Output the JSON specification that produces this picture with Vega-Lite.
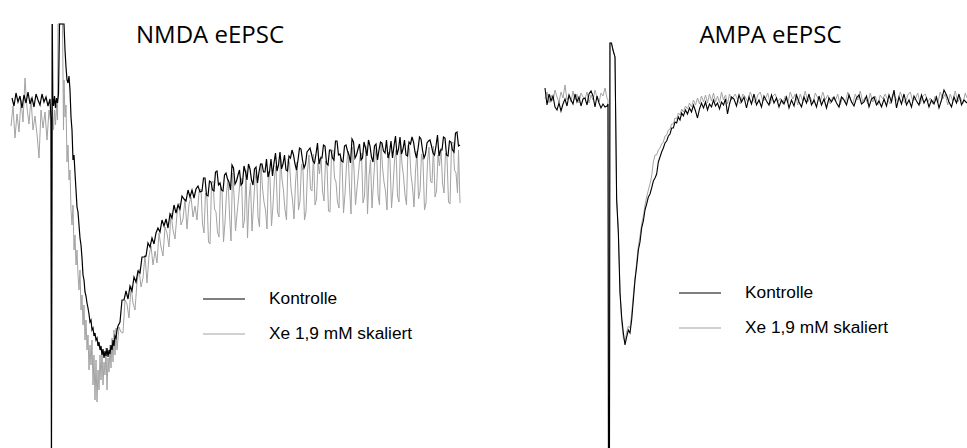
{
"$schema": "https://vega.github.io/schema/vega-lite/v6.json",
"padding": 0,
"bounds": "flush",
"spacing": 0,
"background": "white",
"config": {
 "view": {"stroke": null},
 "title": {"font": "Open Sans", "fontSize": 24, "fontWeight": "normal", "color": "#000000", "anchor": "middle", "frame": "group", "baseline": "alphabetic"},
 "legend": {"orient": "none", "title": null, "padding": 0, "symbolType": "stroke", "symbolSize": 1764, "symbolStrokeWidth": 1.2, "labelFont": "Liberation Sans", "labelFontSize": 17.3, "labelColor": "#000000", "labelOffset": 23, "clipHeight": 28, "rowPadding": 7}
},
"datasets": {
 "nk": [
{"t":-40,"v":2},{"t":-38,"v":-6},{"t":-36,"v":7},{"t":-34,"v":-2},{"t":-32,"v":4},{"t":-30,"v":-8},{"t":-28,"v":5},{"t":-26,"v":-3},{"t":-24,"v":8},{"t":-22,"v":-4},{"t":-20,"v":2},{"t":-18,"v":-7},{"t":-16,"v":6},{"t":-14,"v":0},{"t":-12,"v":-5},{"t":-10,"v":6},{"t":-8,"v":-2},{"t":-6,"v":3},{"t":-4,"v":-6},{"t":-2,"v":1},{"t":-1,"v":-20},
{"t":-0.5,"v":-360},{"t":0.3,"v":76},{"t":0.8,"v":2},{"t":1.5,"v":-6},{"t":2.5,"v":4},{"t":3.5,"v":-8},{"t":4.5,"v":2},{"t":5.5,"v":-3},{"t":6.5,"v":6},{"t":7.5,"v":76},{"t":12,"v":76},{"t":13,"v":50},{"t":14,"v":33},{"t":15,"v":20},{"t":16,"v":17},{"t":17,"v":24},{"t":18,"v":10},{"t":19,"v":-17},{"t":20,"v":-30},{"t":21,"v":-60},{"t":22,"v":-55},{"t":23,"v":-73},{"t":24,"v":-90},
{"t":25,"v":-107},{"t":26,"v":-112},{"t":27,"v":-125},{"t":28,"v":-138},{"t":29,"v":-145},{"t":30,"v":-158},{"t":31,"v":-175},{"t":32,"v":-180},{"t":33,"v":-192},{"t":34,"v":-196},{"t":35,"v":-203},{"t":36,"v":-208},{"t":37,"v":-214},{"t":38,"v":-222},{"t":39,"v":-220},{"t":40,"v":-230},{"t":41,"v":-228},{"t":42,"v":-236},{"t":43,"v":-233},{"t":44,"v":-240},{"t":45,"v":-238},{"t":46,"v":-246},{"t":47,"v":-242},{"t":48,"v":-250},{"t":49,"v":-246},{"t":50,"v":-255},{"t":51,"v":-249},{"t":52,"v":-258},{"t":53,"v":-251},{"t":54,"v":-256},{"t":55,"v":-248},{"t":56,"v":-257},{"t":57,"v":-250},{"t":58,"v":-254},{"t":59,"v":-245},{"t":60,"v":-250},{"t":61,"v":-240},{"t":62,"v":-246},{"t":63,"v":-236},{"t":64,"v":-238},{"t":65,"v":-230},
{"t":66,"v":-226},{"t":68,"v":-222},{"t":70,"v":-200},{"t":72,"v":-200},{"t":74,"v":-191},{"t":76,"v":-199},{"t":78,"v":-186},{"t":80,"v":-191},{"t":82,"v":-177},{"t":84,"v":-182},{"t":86,"v":-171},{"t":88,"v":-173},{"t":90,"v":-157},{"t":92,"v":-157},{"t":94,"v":-156},{"t":96,"v":-143},{"t":98,"v":-147},{"t":100,"v":-138},{"t":102,"v":-144},{"t":104,"v":-133},{"t":106,"v":-128},{"t":108,"v":-132},{"t":110,"v":-120},{"t":112,"v":-126},{"t":114,"v":-119},{"t":116,"v":-128},{"t":118,"v":-114},{"t":120,"v":-118},{"t":122,"v":-105},{"t":124,"v":-113},{"t":126,"v":-105},{"t":128,"v":-109},{"t":130,"v":-96},{"t":132,"v":-99},{"t":134,"v":-101},{"t":136,"v":-90},{"t":138,"v":-97},{"t":140,"v":-90},{"t":142,"v":-98},{"t":144,"v":-89},{"t":146,"v":-86},{"t":148,"v":-92},
{"t":150,"v":-91},{"t":151.5,"v":-78},{"t":153,"v":-78},{"t":154.5,"v":-95},{"t":156,"v":-96},{"t":157.5,"v":-81},{"t":159,"v":-82},{"t":160.5,"v":-90},{"t":162,"v":-91},{"t":163.5,"v":-72},{"t":165,"v":-71},{"t":166.5,"v":-85},{"t":168,"v":-83},{"t":169.5,"v":-90},{"t":171,"v":-91},{"t":172.5,"v":-75},{"t":174,"v":-73},{"t":175.5,"v":-79},{"t":177,"v":-82},{"t":178.5,"v":-90},{"t":180,"v":-65},{"t":181.5,"v":-68},{"t":183,"v":-84},{"t":184.5,"v":-81},{"t":186,"v":-75},{"t":187.5,"v":-70},{"t":189,"v":-85},{"t":190.5,"v":-83},{"t":192,"v":-66},{"t":193.5,"v":-72},{"t":195,"v":-80},{"t":196.5,"v":-64},{"t":198,"v":-69},{"t":199.5,"v":-80},{"t":201,"v":-85},{"t":202.5,"v":-69},{"t":204,"v":-67},{"t":205.5,"v":-83},{"t":207,"v":-72},{"t":208.5,"v":-64},{"t":210,"v":-64},{"t":211.5,"v":-72},{"t":213,"v":-72},{"t":214.5,"v":-59},{"t":216,"v":-77},{"t":217.5,"v":-72},{"t":219,"v":-59},{"t":220.5,"v":-76},{"t":222,"v":-63},{"t":223.5,"v":-53},{"t":225,"v":-71},{"t":226.5,"v":-65},{"t":228,"v":-52},{"t":229.5,"v":-69},{"t":231,"v":-64},{"t":232.5,"v":-55},{"t":234,"v":-70},{"t":235.5,"v":-71},{"t":237,"v":-56},{"t":238.5,"v":-58},{"t":240,"v":-50},{"t":241.5,"v":-55},{"t":243,"v":-64},{"t":244.5,"v":-70},{"t":246,"v":-60},{"t":247.5,"v":-48},{"t":249,"v":-49},{"t":250.5,"v":-60},{"t":252,"v":-68},{"t":253.5,"v":-64},{"t":255,"v":-52},{"t":256.5,"v":-50},{"t":258,"v":-48},{"t":259.5,"v":-54},{"t":261,"v":-61},{"t":262.5,"v":-63},{"t":264,"v":-54},{"t":265.5,"v":-43},{"t":267,"v":-64},{"t":268.5,"v":-58},{"t":270,"v":-58},{"t":271.5,"v":-45},{"t":273,"v":-46},{"t":274.5,"v":-63},{"t":276,"v":-65},{"t":277.5,"v":-50},{"t":279,"v":-50},{"t":280.5,"v":-58},{"t":282,"v":-60},{"t":283.5,"v":-41},{"t":285,"v":-41},{"t":286.5,"v":-55},{"t":288,"v":-54},{"t":289.5,"v":-61},{"t":291,"v":-62},{"t":292.5,"v":-46},{"t":294,"v":-45},{"t":295.5,"v":-51},{"t":297,"v":-55},{"t":298.5,"v":-63},{"t":300,"v":-39},{"t":301.5,"v":-42},{"t":303,"v":-58},{"t":304.5,"v":-55},{"t":306,"v":-49},{"t":307.5,"v":-44},{"t":309,"v":-60},{"t":310.5,"v":-58},{"t":312,"v":-42},{"t":313.5,"v":-48},{"t":315,"v":-56},{"t":316.5,"v":-40},{"t":318,"v":-46},{"t":319.5,"v":-57},{"t":321,"v":-62},{"t":322.5,"v":-46},{"t":324,"v":-44},{"t":325.5,"v":-60},{"t":327,"v":-50},{"t":328.5,"v":-42},{"t":330,"v":-43},{"t":331.5,"v":-51},{"t":333,"v":-53},{"t":334.5,"v":-40},{"t":336,"v":-58},{"t":337.5,"v":-53},{"t":339,"v":-41},{"t":340.5,"v":-58},{"t":342,"v":-46},{"t":343.5,"v":-36},{"t":345,"v":-55},{"t":346.5,"v":-49},{"t":348,"v":-37},{"t":349.5,"v":-54},{"t":351,"v":-49},{"t":352.5,"v":-40},{"t":354,"v":-55},{"t":355.5,"v":-56},{"t":357,"v":-42},{"t":358.5,"v":-44},{"t":360,"v":-37},{"t":361.5,"v":-42},{"t":363,"v":-52},{"t":364.5,"v":-58},{"t":366,"v":-49},{"t":367.5,"v":-37},{"t":369,"v":-39},{"t":370.5,"v":-50},{"t":372,"v":-58},{"t":373.5,"v":-54},{"t":375,"v":-43},{"t":376.5,"v":-41},{"t":378,"v":-40},{"t":379.5,"v":-46},{"t":381,"v":-53},{"t":382.5,"v":-55},{"t":384,"v":-46},{"t":385.5,"v":-35},{"t":387,"v":-56},{"t":388.5,"v":-50},{"t":390,"v":-50},{"t":391.5,"v":-37},{"t":393,"v":-38},{"t":394.5,"v":-55},{"t":396,"v":-56},{"t":397.5,"v":-41},{"t":399,"v":-42},{"t":400.5,"v":-50},{"t":402,"v":-52},{"t":403.5,"v":-33},{"t":405,"v":-32},{"t":406.5,"v":-46},{"t":408,"v":-45}
 ],
 "nx": [
{"t":-41,"v":-26},{"t":-39,"v":-6},{"t":-37,"v":-38},{"t":-35,"v":-14},{"t":-33,"v":-32},{"t":-31,"v":0},{"t":-29,"v":-22},{"t":-27,"v":22},{"t":-25,"v":-8},{"t":-23,"v":-24},{"t":-21,"v":2},{"t":-19,"v":-30},{"t":-17,"v":-16},{"t":-15,"v":-34},{"t":-13,"v":-58},{"t":-11,"v":-10},{"t":-9,"v":-28},{"t":-7,"v":-12},{"t":-5,"v":-40},{"t":-3,"v":-10},{"t":-1,"v":-25},
{"t":-0.7,"v":-360},{"t":0,"v":76},{"t":0.6,"v":-15},{"t":1.5,"v":-30},{"t":2.5,"v":-10},{"t":3.5,"v":-25},{"t":4.5,"v":-5},{"t":5.5,"v":-20},{"t":6,"v":76},{"t":10.5,"v":76},{"t":11.5,"v":-30},{"t":12,"v":20},{"t":13,"v":-17},{"t":14,"v":-5},{"t":15,"v":-62},{"t":16,"v":-45},{"t":17,"v":-80},{"t":18,"v":-70},{"t":19,"v":-110},{"t":20,"v":-125},{"t":21,"v":-105},{"t":22,"v":-150},{"t":23,"v":-135},{"t":24,"v":-165},{"t":25,"v":-150},{"t":26,"v":-175},{"t":27,"v":-190},{"t":28,"v":-170},{"t":29,"v":-210},{"t":30,"v":-195},{"t":31,"v":-225},{"t":32,"v":-205},{"t":33,"v":-240},{"t":34,"v":-220},{"t":35,"v":-250},{"t":36,"v":-235},{"t":37,"v":-270},{"t":38,"v":-245},{"t":39,"v":-265},{"t":40,"v":-240},{"t":41,"v":-285},{"t":42,"v":-255},{"t":43,"v":-300},{"t":44,"v":-260},{"t":45,"v":-302},{"t":46,"v":-270},{"t":47,"v":-290},{"t":48,"v":-255},{"t":49,"v":-280},{"t":50,"v":-250},{"t":51,"v":-285},{"t":52,"v":-262},{"t":53,"v":-275},{"t":54,"v":-248},{"t":55,"v":-290},{"t":56,"v":-258},{"t":57,"v":-272},{"t":58,"v":-245},{"t":59,"v":-268},{"t":60,"v":-238},{"t":61,"v":-262},{"t":62,"v":-230},{"t":63,"v":-255},{"t":64,"v":-228},{"t":65,"v":-250},
{"t":67,"v":-227},{"t":69,"v":-232},{"t":71,"v":-233},{"t":73,"v":-200},{"t":75,"v":-204},{"t":77,"v":-218},{"t":79,"v":-186},{"t":81,"v":-203},{"t":83,"v":-210},{"t":85,"v":-182},{"t":87,"v":-169},{"t":89,"v":-187},{"t":91,"v":-178},{"t":93,"v":-155},{"t":95,"v":-183},{"t":97,"v":-156},{"t":99,"v":-146},{"t":101,"v":-165},{"t":103,"v":-151},{"t":105,"v":-163},{"t":107,"v":-133},{"t":109,"v":-147},{"t":111,"v":-156},{"t":113,"v":-127},{"t":115,"v":-133},{"t":117,"v":-147},{"t":119,"v":-113},{"t":121,"v":-130},{"t":123,"v":-139},{"t":125,"v":-114},{"t":127,"v":-103},{"t":129,"v":-125},{"t":131,"v":-119},{"t":133,"v":-99},{"t":135,"v":-129},{"t":137,"v":-104},{"t":139,"v":-97},{"t":141,"v":-117},{"t":143,"v":-106},{"t":145,"v":-120},{"t":147,"v":-92},
{"t":149,"v":-89},{"t":150.5,"v":-124},{"t":152,"v":-133},{"t":153.5,"v":-93},{"t":155,"v":-98},{"t":156.5,"v":-142},{"t":158,"v":-144},{"t":159.5,"v":-84},{"t":161,"v":-81},{"t":162.5,"v":-109},{"t":164,"v":-112},{"t":165.5,"v":-132},{"t":167,"v":-137},{"t":168.5,"v":-87},{"t":170,"v":-90},{"t":171.5,"v":-142},{"t":173,"v":-122},{"t":174.5,"v":-93},{"t":176,"v":-79},{"t":177.5,"v":-114},{"t":179,"v":-141},{"t":180.5,"v":-73},{"t":182,"v":-95},{"t":183.5,"v":-131},{"t":185,"v":-114},{"t":186.5,"v":-99},{"t":188,"v":-81},{"t":189.5,"v":-78},{"t":191,"v":-128},{"t":192.5,"v":-120},{"t":194,"v":-70},{"t":195.5,"v":-138},{"t":197,"v":-99},{"t":198.5,"v":-83},{"t":200,"v":-131},{"t":201.5,"v":-105},{"t":203,"v":-80},{"t":204.5,"v":-70},{"t":206,"v":-117},{"t":207.5,"v":-127},{"t":209,"v":-63},{"t":210.5,"v":-88},{"t":212,"v":-102},{"t":213.5,"v":-110},{"t":215,"v":-129},{"t":216.5,"v":-71},{"t":218,"v":-78},{"t":219.5,"v":-126},{"t":221,"v":-105},{"t":222.5,"v":-77},{"t":224,"v":-66},{"t":225.5,"v":-112},{"t":227,"v":-117},{"t":228.5,"v":-57},{"t":230,"v":-79},{"t":231.5,"v":-91},{"t":233,"v":-110},{"t":234.5,"v":-120},{"t":236,"v":-59},{"t":237.5,"v":-63},{"t":239,"v":-88},{"t":240.5,"v":-100},{"t":242,"v":-119},{"t":243.5,"v":-83},{"t":245,"v":-62},{"t":246.5,"v":-110},{"t":248,"v":-101},{"t":249.5,"v":-64},{"t":251,"v":-71},{"t":252.5,"v":-120},{"t":254,"v":-112},{"t":255.5,"v":-71},{"t":257,"v":-55},{"t":258.5,"v":-89},{"t":260,"v":-91},{"t":261.5,"v":-54},{"t":263,"v":-105},{"t":264.5,"v":-99},{"t":266,"v":-63},{"t":267.5,"v":-74},{"t":269,"v":-56},{"t":270.5,"v":-91},{"t":272,"v":-101},{"t":273.5,"v":-61},{"t":275,"v":-66},{"t":276.5,"v":-111},{"t":278,"v":-112},{"t":279.5,"v":-52},{"t":281,"v":-50},{"t":282.5,"v":-78},{"t":284,"v":-82},{"t":285.5,"v":-102},{"t":287,"v":-108},{"t":288.5,"v":-58},{"t":290,"v":-61},{"t":291.5,"v":-113},{"t":293,"v":-94},{"t":294.5,"v":-65},{"t":296,"v":-51},{"t":297.5,"v":-87},{"t":299,"v":-114},{"t":300.5,"v":-47},{"t":302,"v":-69},{"t":303.5,"v":-105},{"t":305,"v":-88},{"t":306.5,"v":-73},{"t":308,"v":-56},{"t":309.5,"v":-53},{"t":311,"v":-103},{"t":312.5,"v":-96},{"t":314,"v":-46},{"t":315.5,"v":-114},{"t":317,"v":-76},{"t":318.5,"v":-60},{"t":320,"v":-108},{"t":321.5,"v":-82},{"t":323,"v":-57},{"t":324.5,"v":-47},{"t":326,"v":-95},{"t":327.5,"v":-105},{"t":329,"v":-42},{"t":330.5,"v":-67},{"t":332,"v":-82},{"t":333.5,"v":-91},{"t":335,"v":-110},{"t":336.5,"v":-52},{"t":338,"v":-60},{"t":339.5,"v":-108},{"t":341,"v":-88},{"t":342.5,"v":-60},{"t":344,"v":-50},{"t":345.5,"v":-96},{"t":347,"v":-102},{"t":348.5,"v":-42},{"t":350,"v":-64},{"t":351.5,"v":-76},{"t":353,"v":-95},{"t":354.5,"v":-105},{"t":356,"v":-45},{"t":357.5,"v":-49},{"t":359,"v":-75},{"t":360.5,"v":-87},{"t":362,"v":-107},{"t":363.5,"v":-71},{"t":365,"v":-51},{"t":366.5,"v":-99},{"t":368,"v":-91},{"t":369.5,"v":-54},{"t":371,"v":-61},{"t":372.5,"v":-110},{"t":374,"v":-103},{"t":375.5,"v":-62},{"t":377,"v":-47},{"t":378.5,"v":-81},{"t":380,"v":-83},{"t":381.5,"v":-46},{"t":383,"v":-97},{"t":384.5,"v":-91},{"t":386,"v":-55},{"t":387.5,"v":-66},{"t":389,"v":-48},{"t":390.5,"v":-83},{"t":392,"v":-93},{"t":393.5,"v":-53},{"t":395,"v":-57},{"t":396.5,"v":-102},{"t":398,"v":-104},{"t":399.5,"v":-44},{"t":401,"v":-42},{"t":402.5,"v":-70},{"t":404,"v":-73},{"t":405.5,"v":-93},{"t":406.5,"v":-50},{"t":408,"v":-103}
 ],
 "ak": [
{"t":-12.8,"v":12},{"t":-12.4,"v":-5},{"t":-12.0,"v":6},{"t":-11.6,"v":-1},{"t":-11.2,"v":4},{"t":-10.8,"v":-7},{"t":-10.4,"v":-10},{"t":-10.0,"v":-3},{"t":-9.6,"v":-11},{"t":-9.2,"v":-4},{"t":-8.8,"v":1},{"t":-8.4,"v":-6},{"t":-8.0,"v":5},{"t":-7.6,"v":0},{"t":-7.2,"v":-4},{"t":-6.8,"v":6},{"t":-6.4,"v":-2},{"t":-6.0,"v":3},{"t":-5.6,"v":-6},{"t":-5.2,"v":1},{"t":-4.8,"v":2},{"t":-4.4,"v":-5},{"t":-4.0,"v":6},{"t":-3.6,"v":9},{"t":-3.2,"v":4},{"t":-2.8,"v":-7},{"t":-2.4,"v":4},{"t":-2.0,"v":-3},{"t":-1.6,"v":-8},{"t":-1.2,"v":-4},{"t":-0.8,"v":-7},{"t":-0.4,"v":-6},{"t":-0.2,"v":-4},
{"t":-0.1,"v":-360},{"t":0.1,"v":-360},{"t":0.2,"v":57},{"t":0.5,"v":57},{"t":0.8,"v":50},{"t":1.2,"v":43},
{"t":1.53,"v":-100},{"t":1.87,"v":-133},{"t":2.2,"v":-193},{"t":2.53,"v":-217},{"t":2.87,"v":-233},{"t":3.2,"v":-245},{"t":3.53,"v":-237},{"t":3.87,"v":-230},{"t":4.2,"v":-233},{"t":4.53,"v":-220},{"t":4.87,"v":-200},{"t":5.2,"v":-180},{"t":5.53,"v":-167},{"t":5.87,"v":-150},{"t":6.2,"v":-142},{"t":6.53,"v":-128},{"t":6.87,"v":-121},{"t":7.2,"v":-110},{"t":7.53,"v":-104},{"t":7.87,"v":-97},{"t":8.2,"v":-94},{"t":8.53,"v":-88},{"t":8.87,"v":-81},{"t":9.2,"v":-78},{"t":9.53,"v":-74},{"t":9.87,"v":-62},{"t":10.2,"v":-57},{"t":10.53,"v":-52},{"t":10.87,"v":-48},{"t":11.2,"v":-43},{"t":11.53,"v":-41},{"t":11.87,"v":-36},{"t":12.2,"v":-34},{"t":12.53,"v":-28},{"t":12.87,"v":-28},{"t":13.2,"v":-22},{"t":13.53,"v":-23},{"t":13.87,"v":-17},{"t":14.2,"v":-20},{"t":14.53,"v":-13},{"t":14.87,"v":-16},{"t":15.3,"v":-10},{"t":15.7,"v":-14},{"t":16.1,"v":-8},{"t":16.5,"v":-12},{"t":16.9,"v":-5},{"t":17.3,"v":-11},{"t":17.7,"v":-18},{"t":18.1,"v":-9},{"t":18.5,"v":-3},{"t":18.9,"v":-8},{"t":19.3,"v":-2},{"t":19.7,"v":-10},{"t":20.1,"v":-4},{"t":20.5,"v":-7},{"t":20.9,"v":0},{"t":21.3,"v":-6},{"t":21.7,"v":-3},{"t":22.1,"v":-9},{"t":22.5,"v":-2},{"t":22.9,"v":-5},{"t":23.3,"v":1},{"t":23.7,"v":-14},{"t":24.1,"v":-4},{"t":24.5,"v":3},
{"t":25.0,"v":1},{"t":25.5,"v":-6},{"t":26.0,"v":5},{"t":26.5,"v":-2},{"t":27.0,"v":3},{"t":27.5,"v":-8},{"t":28.0,"v":3},{"t":28.5,"v":-4},{"t":29.0,"v":6},{"t":29.5,"v":-5},{"t":30.0,"v":0},{"t":30.5,"v":-7},{"t":31.0,"v":4},{"t":31.5,"v":-1},{"t":32.0,"v":-5},{"t":32.5,"v":5},{"t":33.0,"v":-3},{"t":33.5,"v":2},{"t":34.0,"v":-7},{"t":34.5,"v":0},{"t":35.0,"v":-4},{"t":35.5,"v":3},{"t":36.0,"v":-8},{"t":36.5,"v":0},{"t":37.0,"v":-6},{"t":37.5,"v":5},{"t":38.0,"v":-2},{"t":38.5,"v":-7},{"t":39.0,"v":3},{"t":39.5,"v":-3},{"t":40.0,"v":6},{"t":40.5,"v":-5},{"t":41.0,"v":0},{"t":41.5,"v":-7},{"t":42.0,"v":4},{"t":42.5,"v":-5},{"t":43.0,"v":1},{"t":43.5,"v":-8},{"t":44.0,"v":2},{"t":44.5,"v":-2},{"t":45.0,"v":3},{"t":45.5,"v":-3},{"t":46.0,"v":-7},{"t":46.5,"v":3},{"t":47.0,"v":0},{"t":47.5,"v":-5},{"t":48.0,"v":5},{"t":48.5,"v":-2},{"t":49.0,"v":-6},{"t":49.5,"v":2},{"t":50.0,"v":5},{"t":50.5,"v":-4},{"t":51.0,"v":-2},{"t":51.5,"v":4},{"t":52.0,"v":-7},{"t":52.5,"v":1},{"t":53.0,"v":3},{"t":53.5,"v":-5},{"t":54.0,"v":-1},{"t":54.5,"v":-7},{"t":55.0,"v":1},{"t":55.5,"v":-6},{"t":56.0,"v":5},{"t":56.5,"v":-2},{"t":57.0,"v":10},{"t":57.5,"v":-8},{"t":58.0,"v":3},{"t":58.5,"v":-4},{"t":59.0,"v":6},{"t":59.5,"v":-5},{"t":60.0,"v":0},{"t":60.5,"v":-7},{"t":61.0,"v":4},{"t":61.5,"v":-1},{"t":62.0,"v":-5},{"t":62.5,"v":5},{"t":63.0,"v":-3},{"t":63.5,"v":2},{"t":64.0,"v":-7},{"t":64.5,"v":0},{"t":65.0,"v":-4},{"t":65.5,"v":3},{"t":66.0,"v":-8},{"t":66.5,"v":0},{"t":67.0,"v":10},{"t":67.5,"v":5},{"t":68.0,"v":-2},{"t":68.5,"v":-7},{"t":69.0,"v":3},{"t":69.5,"v":-3},{"t":70.0,"v":6},{"t":70.5,"v":-5},{"t":71.0,"v":0},{"t":71.6,"v":-3}
 ],
 "ax": [
{"t":-12.8,"v":1},{"t":-12.4,"v":8},{"t":-12.0,"v":-3},{"t":-11.6,"v":5},{"t":-11.2,"v":-1},{"t":-10.8,"v":10},{"t":-10.4,"v":3},{"t":-10.0,"v":-2},{"t":-9.6,"v":8},{"t":-9.2,"v":2},{"t":-8.8,"v":15},{"t":-8.4,"v":0},{"t":-8.0,"v":5},{"t":-7.6,"v":-2},{"t":-7.2,"v":9},{"t":-6.8,"v":0},{"t":-6.4,"v":6},{"t":-6.0,"v":-3},{"t":-5.6,"v":7},{"t":-5.2,"v":3},{"t":-4.8,"v":1},{"t":-4.4,"v":8},{"t":-4.0,"v":-3},{"t":-3.6,"v":5},{"t":-3.2,"v":0},{"t":-2.8,"v":10},{"t":-2.4,"v":3},{"t":-2.0,"v":-2},{"t":-1.6,"v":7},{"t":-1.2,"v":4},{"t":-0.8,"v":12},{"t":-0.4,"v":2},{"t":-0.2,"v":0},
{"t":-0.15,"v":-360},{"t":0.05,"v":-360},{"t":0.15,"v":57},{"t":0.45,"v":57},{"t":0.8,"v":50},{"t":1.2,"v":43},
{"t":1.53,"v":-98},{"t":1.87,"v":-130},{"t":2.2,"v":-190},{"t":2.53,"v":-222},{"t":2.87,"v":-238},{"t":3.2,"v":-242},{"t":3.53,"v":-232},{"t":3.87,"v":-226},{"t":4.2,"v":-228},{"t":4.53,"v":-214},{"t":4.87,"v":-195},{"t":5.2,"v":-178},{"t":5.53,"v":-162},{"t":5.87,"v":-146},{"t":6.2,"v":-136},{"t":6.53,"v":-124},{"t":6.87,"v":-116},{"t":7.2,"v":-105},{"t":7.53,"v":-97},{"t":7.87,"v":-90},{"t":8.2,"v":-84},{"t":8.53,"v":-76},{"t":8.87,"v":-62},{"t":9.2,"v":-55},{"t":9.53,"v":-55},{"t":9.87,"v":-50},{"t":10.2,"v":-48},{"t":10.53,"v":-44},{"t":10.87,"v":-42},{"t":11.2,"v":-36},{"t":11.53,"v":-35},{"t":11.87,"v":-30},{"t":12.2,"v":-29},{"t":12.53,"v":-24},{"t":12.87,"v":-24},{"t":13.2,"v":-18},{"t":13.53,"v":-19},{"t":13.87,"v":-13},{"t":14.2,"v":-15},{"t":14.53,"v":-9},{"t":14.87,"v":-12},{"t":15.3,"v":-6},{"t":15.7,"v":-9},{"t":16.1,"v":-3},{"t":16.5,"v":-7},{"t":16.9,"v":0},{"t":17.3,"v":-5},{"t":17.7,"v":2},{"t":18.1,"v":-4},{"t":18.5,"v":4},{"t":18.9,"v":-2},{"t":19.3,"v":5},{"t":19.7,"v":-3},{"t":20.1,"v":6},{"t":20.5,"v":-1},{"t":20.9,"v":7},{"t":21.3,"v":-2},{"t":21.7,"v":4},{"t":22.1,"v":-3},{"t":22.5,"v":8},{"t":22.9,"v":0},{"t":23.3,"v":5},{"t":23.7,"v":-4},{"t":24.1,"v":6},{"t":24.5,"v":0},
{"t":25.25,"v":6},{"t":25.75,"v":0},{"t":26.25,"v":-4},{"t":26.75,"v":6},{"t":27.25,"v":3},{"t":27.75,"v":-2},{"t":28.25,"v":8},{"t":28.75,"v":1},{"t":29.25,"v":-3},{"t":29.75,"v":5},{"t":30.25,"v":8},{"t":30.75,"v":-1},{"t":31.25,"v":1},{"t":31.75,"v":7},{"t":32.25,"v":-4},{"t":32.75,"v":4},{"t":33.25,"v":6},{"t":33.75,"v":-2},{"t":34.25,"v":2},{"t":34.75,"v":-4},{"t":35.25,"v":4},{"t":35.75,"v":-3},{"t":36.25,"v":8},{"t":36.75,"v":1},{"t":37.25,"v":6},{"t":37.75,"v":-5},{"t":38.25,"v":6},{"t":38.75,"v":-1},{"t":39.25,"v":9},{"t":39.75,"v":-2},{"t":40.25,"v":3},{"t":40.75,"v":-4},{"t":41.25,"v":7},{"t":41.75,"v":2},{"t":42.25,"v":-2},{"t":42.75,"v":8},{"t":43.25,"v":0},{"t":43.75,"v":5},{"t":44.25,"v":-4},{"t":44.75,"v":3},{"t":45.25,"v":-1},{"t":45.75,"v":6},{"t":46.25,"v":-5},{"t":46.75,"v":3},{"t":47.25,"v":-3},{"t":47.75,"v":8},{"t":48.25,"v":1},{"t":48.75,"v":-4},{"t":49.25,"v":6},{"t":49.75,"v":0},{"t":50.25,"v":9},{"t":50.75,"v":-2},{"t":51.25,"v":3},{"t":51.75,"v":-4},{"t":52.25,"v":7},{"t":52.75,"v":-2},{"t":53.25,"v":4},{"t":53.75,"v":-5},{"t":54.25,"v":5},{"t":54.75,"v":1},{"t":55.25,"v":6},{"t":55.75,"v":0},{"t":56.25,"v":-4},{"t":56.75,"v":6},{"t":57.25,"v":3},{"t":57.75,"v":-2},{"t":58.25,"v":8},{"t":58.75,"v":1},{"t":59.25,"v":-3},{"t":59.75,"v":5},{"t":60.25,"v":8},{"t":60.75,"v":-1},{"t":61.25,"v":1},{"t":61.75,"v":7},{"t":62.25,"v":-4},{"t":62.75,"v":4},{"t":63.25,"v":6},{"t":63.75,"v":-2},{"t":64.25,"v":2},{"t":64.75,"v":-4},{"t":65.25,"v":4},{"t":65.75,"v":-3},{"t":66.25,"v":8},{"t":66.75,"v":1},{"t":67.25,"v":6},{"t":67.75,"v":-5},{"t":68.25,"v":6},{"t":68.75,"v":-1},{"t":69.25,"v":9},{"t":69.75,"v":-2},{"t":70.25,"v":3},{"t":70.75,"v":-4},{"t":71.25,"v":7},{"t":71.6,"v":2}
 ]
},
"hconcat": [
 {
  "width": 480,
  "height": 448,
  "title": {"text": "NMDA eEPSC", "offset": -43, "dx": -30, "dy": 5},
  "layer": [
   {"data": {"name": "nx"}, "mark": {"type": "line", "strokeWidth": 1, "clip": true},
    "encoding": {
     "x": {"field": "t", "type": "quantitative", "sort": null, "scale": {"domain": [-52, 428], "nice": false, "zero": false}, "axis": null},
     "y": {"field": "v", "type": "quantitative", "scale": {"domain": [-348, 100], "nice": false, "zero": false, "clamp": true}, "axis": null},
     "color": {"datum": "Xe 1,9 mM skaliert", "type": "nominal", "scale": {"domain": ["Kontrolle", "Xe 1,9 mM skaliert"], "range": ["#000000", "#a3a3a3"]}, "legend": {"legendX": 202, "legendY": 285}}
    }},
   {"data": {"name": "nk"}, "mark": {"type": "line", "strokeWidth": 1.2, "clip": true},
    "encoding": {
     "x": {"field": "t", "type": "quantitative", "sort": null},
     "y": {"field": "v", "type": "quantitative"},
     "color": {"datum": "Kontrolle", "type": "nominal"}
    }}
  ]
 },
 {
  "width": 487,
  "height": 448,
  "title": {"text": "AMPA eEPSC", "offset": -43, "dx": 47, "dy": 5},
  "layer": [
   {"data": {"name": "ax"}, "mark": {"type": "line", "strokeWidth": 1, "clip": true},
    "encoding": {
     "x": {"field": "t", "type": "quantitative", "sort": null, "scale": {"domain": [-25.8, 71.6], "nice": false, "zero": false}, "axis": null},
     "y": {"field": "v", "type": "quantitative", "scale": {"domain": [-348, 100], "nice": false, "zero": false, "clamp": true}, "axis": null},
     "color": {"datum": "Xe 1,9 mM skaliert", "type": "nominal", "scale": {"domain": ["Kontrolle", "Xe 1,9 mM skaliert"], "range": ["#000000", "#a3a3a3"]}, "legend": {"legendX": 198, "legendY": 279}}
    }},
   {"data": {"name": "ak"}, "mark": {"type": "line", "strokeWidth": 1.1, "clip": true},
    "encoding": {
     "x": {"field": "t", "type": "quantitative", "sort": null},
     "y": {"field": "v", "type": "quantitative"},
     "color": {"datum": "Kontrolle", "type": "nominal"}
    }}
  ]
 }
],
"resolve": {"scale": {"x": "independent", "y": "independent", "color": "independent"}, "legend": {"color": "independent"}}
}
